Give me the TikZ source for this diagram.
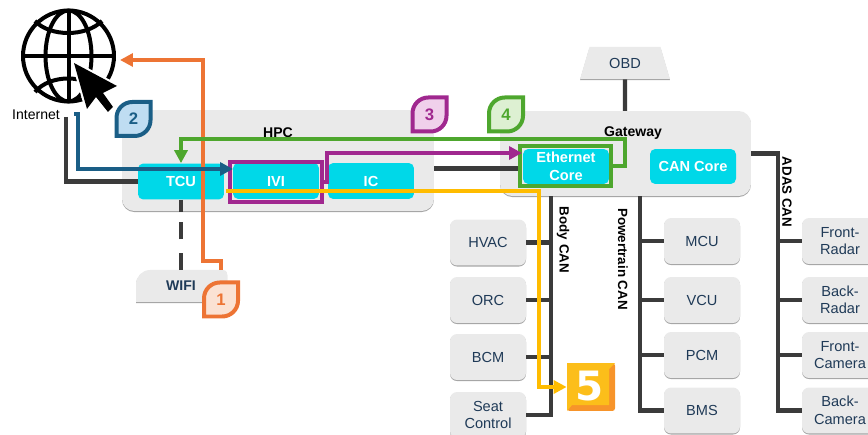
\documentclass[tikz,border=0pt]{standalone}
\usepackage{fontspec}
\setmainfont{Liberation Sans}
\newfontfamily\fivefont{DejaVu Sans}
\usetikzlibrary{shapes.geometric, shadows, arrows.meta}
\definecolor{panelgray}{HTML}{EAEAEA}
\definecolor{buscolor}{HTML}{3B3B3B}
\definecolor{corecyan}{HTML}{00D8E8}
\definecolor{labelnavy}{HTML}{1F3A57}
\definecolor{orangeline}{HTML}{ED7434}
\definecolor{blueline}{HTML}{1A5E86}
\definecolor{purpleline}{HTML}{A0288F}
\definecolor{greenline}{HTML}{4EA72E}
\definecolor{yellowline}{HTML}{FFBC00}
\definecolor{orangetint}{HTML}{FBE2D3}
\definecolor{bluetint}{HTML}{BFDDF2}
\definecolor{purpletint}{HTML}{F0D0EB}
\definecolor{greentint}{HTML}{DDF0D2}
\definecolor{fivebase}{HTML}{F7942A}
\definecolor{fivetop}{HTML}{FCBE1A}
\newcommand{\leafbadge}[5]{%
  \draw[line width=0.08cm, draw=#3, fill=#4, shift={(#2)}] (17,-17) [rounded corners=9pt] -- (-17,-17) [sharp corners] -- (-17,17) [rounded corners=9pt] -- (17,17) [sharp corners] -- cycle;
  \node[text=#3, font=\fontsize{9.5}{10}\selectfont\bfseries] (#1) at (#2) {#5};
}
\begin{document}
\begin{tikzpicture}[>={Triangle[length=0.26cm, width=0.26cm]}, x=0.02cm, y=-0.02cm,
    softshadow/.style={drop shadow={shadow xshift=0pt, shadow yshift=-0.6pt, opacity=0.35, fill=black}},
    panel/.style={fill=panelgray, rounded corners=7pt, softshadow},
    ecu/.style={rectangle, fill=panelgray, rounded corners=4pt, softshadow, minimum width=1.52cm, minimum height=0.92cm, inner sep=0pt, align=center, text=labelnavy, font=\fontsize{8.3}{10}\selectfont},
    core/.style={rectangle, fill=corecyan, rounded corners=3pt, minimum width=1.72cm, minimum height=0.72cm, inner sep=0pt, align=center, text=white, font=\fontsize{8.3}{10}\selectfont\bfseries},
    title/.style={font=\fontsize{8}{10}\selectfont\bfseries, inner sep=0pt},
    sidetitle/.style={font=\fontsize{7.6}{10}\selectfont\bfseries, inner sep=0pt, rotate=-90},
    bus/.style={draw=buscolor, line width=0.085cm},
    frame/.style={rectangle, minimum width=1.85cm, minimum height=0.81cm, inner sep=0pt}]
    \useasboundingbox (0,0) rectangle (868,435);

    \node[panel, rectangle, minimum width=6.24cm, minimum height=2.02cm] (hpc) at (278,160.5) {};
    \node[panel, rectangle, minimum width=5.02cm, minimum height=1.70cm] (gateway) at (625.5,153.5) {};
    \node[title] (hpclabel) at (278,133) {HPC};
    \node[title] (gatewaylabel) at (633,133) {Gateway};

    \node[trapezium, trapezium left angle=68, trapezium right angle=68, fill=panelgray, softshadow, minimum width=1.8cm, minimum height=0.64cm, inner sep=0pt, trapezium stretches=true, text=labelnavy, font=\fontsize{8.3}{10}\selectfont] (obd) at (625,63) {\raisebox{-0.6pt}{OBD}};

    \node[ecu] (hvac) at (488,242.5) {HVAC};
    \node[ecu] (orc) at (488,300) {ORC};
    \node[ecu] (bcm) at (488,357) {BCM};
    \node[ecu] (seat) at (488,415) {Seat\\Control};
    \node[ecu] (mcu) at (702,241) {MCU};
    \node[ecu] (vcu) at (702,300) {VCU};
    \node[ecu] (pcm) at (702,355) {PCM};
    \node[ecu] (bms) at (702,410.5) {BMS};
    \node[ecu] (frontradar) at (840,241) {Front-\\Radar};
    \node[ecu] (backradar) at (840,300) {Back-\\Radar};
    \node[ecu] (frontcamera) at (840,355) {Front-\\Camera};
    \node[ecu] (backcamera) at (840,410.5) {Back-\\Camera};

    \fill[fill=panelgray, softshadow] (136,302) [rounded corners=8pt] -- (136,270) [rounded corners=2pt] -- (227,270) [sharp corners] -- (227,302) -- cycle;
    \node[text=labelnavy, font=\fontsize{8}{10}\selectfont\bfseries, inner sep=0pt] (wifi) at (181,286) {WIFI};

    \node[circle, draw, line width=0.08cm, minimum size=1.82cm, inner sep=0pt] (globe) at (68.5,56) {};
    \draw[line width=0.08cm] (globe.north) -- (globe.south);
    \draw[line width=0.08cm] (globe.west) -- (globe.east);
    \draw[line width=0.08cm] (globe.center) ellipse [x radius=23, y radius=45.5];
    \draw[line width=0.08cm] (35,21) .. controls (50,37) and (86,37) .. (102,21);
    \draw[line width=0.08cm] (35,92) .. controls (50,74) and (86,74) .. (102,92);
    \fill[black, preaction={draw=white, line width=2.4pt}] (74,63) -- (87,109) -- (96,97) -- (108,112) -- (113,107) -- (103,93) -- (117,86) -- cycle;
    \node[font=\fontsize{8}{10}\selectfont, inner sep=0pt] (internet) at (36,115) {Internet};

    \coordinate (internetlink) at (66,117);
    \coordinate (hpclink) at (434,168.5);
    \coordinate (ethlink) at (518,168.5);
    \coordinate (obdlink) at (625,111);
    \coordinate (bodybus) at (551,196);
    \coordinate (powerbus) at (640,196);
    \coordinate (adasbus) at (778,153.5);

    \draw[bus] (internetlink) |- (138,181.5);
    \draw[bus] (hpclink) -- (ethlink);
    \draw[bus] (obd.south) -- (obdlink);
    \draw[bus] (seat.east) -| (bodybus);
    \draw[bus] (hvac.east) -- (hvac.east -| bodybus);
    \draw[bus] (orc.east) -- (orc.east -| bodybus);
    \draw[bus] (bcm.east) -- (bcm.east -| bodybus);
    \draw[bus] (bms.west) -| (powerbus);
    \draw[bus] (mcu.west) -- (mcu.west -| powerbus);
    \draw[bus] (vcu.west) -- (vcu.west -| powerbus);
    \draw[bus] (pcm.west) -- (pcm.west -| powerbus);
    \draw[bus] (gateway.east) -- (adasbus) |- (backcamera.west);
    \draw[bus] (frontradar.west) -- (frontradar.west -| adasbus);
    \draw[bus] (backradar.west) -- (backradar.west -| adasbus);
    \draw[bus] (frontcamera.west) -- (frontcamera.west -| adasbus);

    \node[sidetitle] (bodylabel) at (563,240) {Body CAN};
    \node[sidetitle] (powerlabel) at (623,259) {Powertrain CAN};
    \node[sidetitle] (adaslabel) at (787,192) {ADAS CAN};

    \node[core] (tcu) at (181,181.5) {TCU};
    \node[core] (ivi) at (276,181) {IVI};
    \node[core] (ic) at (371,181) {IC};
    \node[core, minimum height=0.70cm] (ethcore) at (566,166.5) {Ethernet\\Core};
    \node[core, minimum height=0.70cm] (cancore) at (693,166.5) {CAN Core};
    \node[frame, draw=purpleline, line width=0.07cm] (iviframe) at (276,182) {};
    \node[frame, draw=greenline, line width=0.08cm, minimum width=1.82cm, minimum height=0.80cm] (ethframe) at (565.5,166) {};

    \draw[bus] (tcu.south) -- (181,212);
    \draw[bus, dash pattern=on 9.6pt off 7.9pt] (181,270) -- (181,212);

    \coordinate (wifiport) at (221,270);
    \coordinate (wifibend) at (203,261);
    \coordinate (globeport) at (120,60);
    \coordinate (internetport) at (78,114);
    \coordinate (iviport) at (233,169);
    \coordinate (greenbend) at (625,139);
    \coordinate (purplebend) at (327,153);
    \coordinate (ethport) at (522,153);
    \coordinate (yellowstart) at (226,191);
    \coordinate (yellowbend) at (539,191);

    \draw[->, draw=orangeline, line width=0.08cm] (wifiport) |- (wifibend) |- (globeport);
    \draw[->, draw=blueline, line width=0.08cm] (74,114) -- (internetport) |- (iviport);
    \draw[->, draw=greenline, line width=0.07cm] (ethframe.east) -| (greenbend) -| (tcu.north);
    \draw[->, draw=purpleline, line width=0.07cm] (iviframe.east) -| (purplebend) -- (ethport);

    \node[rectangle, fill=fivebase, rounded corners=1.5pt, minimum size=0.96cm, inner sep=0pt] (fivebox) at (591,387) {};
    \fill[fivetop] (567,363) -- (615,363) -- (609,369) -- (609,405) -- (572,405) -- (567,411) -- cycle;
    \node[text=white, font=\fontsize{23}{24}\fivefont\bfseries, inner sep=0pt] (five) at (590,386) {5};
    \draw[->, draw=yellowline, line width=0.07cm] (yellowstart) -- (yellowbend) |- (fivebox.west);

    \leafbadge{badgeone}{221,299.5}{orangeline}{orangetint}{1}
    \leafbadge{badgetwo}{133.5,119}{blueline}{bluetint}{2}
    \leafbadge{badgethree}{429.5,114.5}{purpleline}{purpletint}{3}
    \leafbadge{badgefour}{506,114.5}{greenline}{greentint}{4}
\end{tikzpicture}
\end{document}
